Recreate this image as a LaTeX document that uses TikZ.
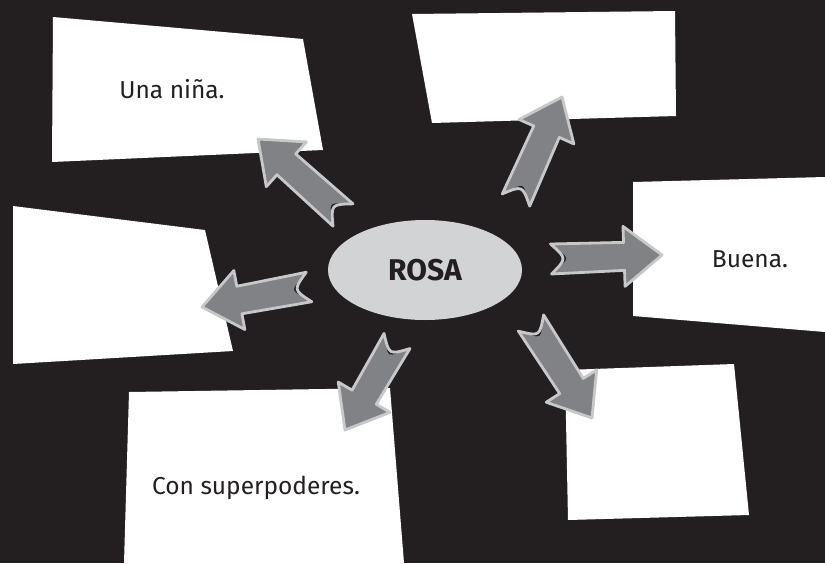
\documentclass[tikz,border=0pt]{standalone}
\usepackage{fontspec}
\setmainfont{Fira Sans}
\usetikzlibrary{calc,shapes.geometric}
\definecolor{bgc}{HTML}{231F20}
\definecolor{arrfillc}{HTML}{808285}
\definecolor{arrlinec}{HTML}{C7C8CA}
\definecolor{ellc}{HTML}{D1D3D4}
\tikzset{
  bgfill/.style={fill=bgc},
  card/.style={fill=white},
  cardtext/.style={text=bgc, font=\fontsize{24.5}{28}\selectfont, inner sep=0pt},
  arrbody/.style={fill=arrfillc},
  arrshade/.style={fill=bgc},
  arredge/.style={draw=arrlinec, line width=2.8pt, line join=round},
  hub/.style={ellipse, fill=ellc, minimum width=194pt, minimum height=100pt, inner sep=0pt,
    text=bgc, font=\fontsize{30}{34}\selectfont\bfseries},
}
\newcommand\blockarr[2]{%
  \coordinate (hb) at ($(#2)!38pt!(#1)$);
  \coordinate (tA) at ($(#1)!15pt!90:(#2)$);
  \coordinate (tB) at ($(#1)!15pt!-90:(#2)$);
  \coordinate (tA2) at ($(tA)!5pt!-90:(#1)$);
  \coordinate (tB2) at ($(tB)!5pt!90:(#1)$);
  \coordinate (sA) at ($(hb)!14pt!-90:(#1)$);
  \coordinate (sB) at ($(hb)!14pt!90:(#1)$);
  \coordinate (hA) at ($(hb)!30pt!-90:(#1)$);
  \coordinate (hB) at ($(hb)!30pt!90:(#1)$);
  \coordinate (tc) at ($(#1)!16pt!(#2)$);
  \coordinate (tc2) at ($(#1)!22pt!(#2)$);
  \fill[arrbody] (tA) -- (sA) -- (hA) -- (#2) -- (hB) -- (sB) -- (tB) .. controls (tc) .. (tA) -- cycle;
  \fill[arrshade] (tB) .. controls (tc) .. (tA) -- (tA2) .. controls (tc2) .. (tB2) -- cycle;
  \draw[arredge] (tA) -- (sA) -- (hA) -- (#2) -- (hB) -- (sB) -- (tB) .. controls (tc) .. (tA) -- cycle;
}
\begin{document}
\begin{tikzpicture}[x=1pt,y=-1pt]
\useasboundingbox (0,0) rectangle (825,563);
\fill[bgfill] (0,0) rectangle (825,563);
% cards
\fill[card] (53,17) -- (303,39) -- (323,150) -- (52,162) -- cycle;
\fill[card] (412,14) -- (675,11) -- (676,116) -- (432,123) -- cycle;
\fill[card] (13,206) -- (205,230) -- (233,351) -- (13,364) -- cycle;
\fill[card] (633,182) -- (825,177) -- (825,332) -- (633,316) -- cycle;
\fill[card] (129,392) -- (390,388) -- (404,563) -- (124,563) -- cycle;
\fill[card] (565,370) -- (734,364) -- (749,515) -- (568,520) -- cycle;
\node[cardtext] (t1) at (172,89) {Una niña.};
\node[cardtext] (t4) at (750,259) {Buena.};
\node[cardtext] (t5) at (256,488) {Con superpoderes.};
% arrows
\coordinate (a1t) at (343,215); \coordinate (a1p) at (258,139);
\coordinate (a2t) at (516,200); \coordinate (a2p) at (562,97);
\coordinate (a3t) at (551,259); \coordinate (a3p) at (662,255);
\coordinate (a4t) at (309,287); \coordinate (a4p) at (202,307);
\coordinate (a5t) at (397,341); \coordinate (a5p) at (345,430);
\coordinate (a6t) at (531,323); \coordinate (a6p) at (592,418);
\blockarr{a1t}{a1p}
\blockarr{a2t}{a2p}
\blockarr{a3t}{a3p}
\blockarr{a4t}{a4p}
\blockarr{a5t}{a5p}
\blockarr{a6t}{a6p}
\node[hub] (rosa) at (425,270) {ROSA};
\end{tikzpicture}
\end{document}
